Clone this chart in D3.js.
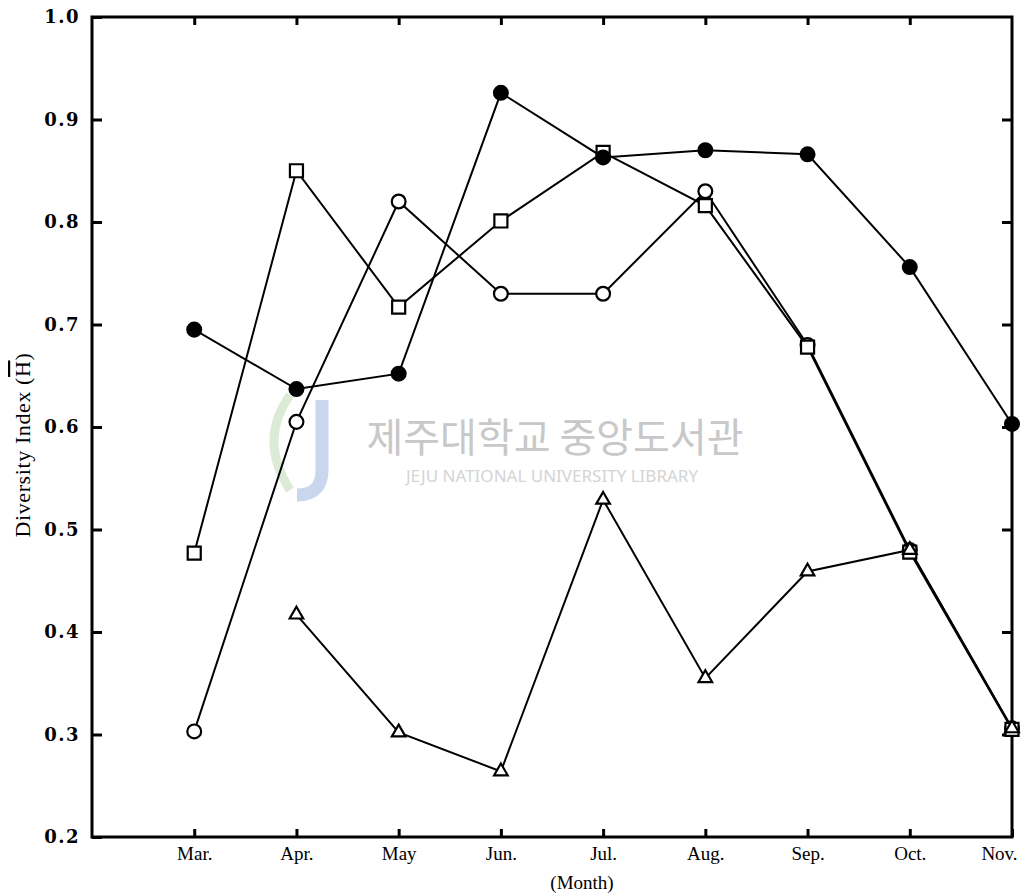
<!DOCTYPE html>
<html>
<head>
<script src="https://d3js.org/d3.v7.min.js"></script>
<style>
  body { margin: 0; background: #fff; }
  .frame { fill: none; stroke: #000; stroke-width: 3px; }
  .axis path { display: none; }
  .axis line { stroke: #000; stroke-width: 3px; }
  .y-axis text { font-family: "DejaVu Serif", serif; font-weight: bold; font-size: 18px; letter-spacing: 1.5px; fill: #000; }
  .x-axis text { font-family: "Liberation Serif", serif; font-size: 19px; fill: #000; }
  .line { fill: none; stroke: #000; stroke-width: 2px; }
  .title { font-family: "Liberation Serif", serif; font-size: 19px; fill: #000; }
</style>
</head>
<body>
<script>
// months (x categories)
var months = ["Mar.", "Apr.", "May", "Jun.", "Jul.", "Aug.", "Sep.", "Oct.", "Nov."];
var yTicks = [0.2, 0.3, 0.4, 0.5, 0.6, 0.7, 0.8, 0.9, 1.0];

// series values (diversity index), null = no sample
var filledCircle = [0.695, 0.637, 0.652, 0.926, 0.863, 0.870, 0.866, 0.756, 0.603];
var openSquare   = [0.477, 0.850, 0.717, 0.801, 0.868, 0.816, 0.678, 0.478, 0.305];
var openCircle   = [0.303, 0.605, 0.820, 0.730, 0.730, 0.830, 0.680, 0.480, 0.306];
var triangle     = [null,  0.417, 0.302, 0.264, 0.529, 0.355, 0.459, 0.480, 0.306];

var W = 1026, H = 895;
var m = { left: 92, right: 1012, top: 17, bottom: 837 };

var svg = d3.select("body").append("svg")
    .attr("width", W)
    .attr("height", H);

// Feb would sit at the left frame, Nov at the right frame
var x = d3.scaleLinear().domain([-1, months.length - 1]).range([m.left, m.right]);
var y = d3.scaleLinear().domain([0.2, 1.0]).range([m.bottom, m.top]);

// watermark
svg.append("text")
    .attr("x", 555).attr("y", 452)
    .attr("text-anchor", "middle")
    .style("font-family", "'Noto Sans CJK KR', sans-serif")
    .style("font-size", "40px")
    .style("fill", "#c8c8c8")
    .text("제주대학교 중앙도서관");
svg.append("text")
    .attr("x", 552).attr("y", 482)
    .attr("text-anchor", "middle")
    .style("font-family", "'Noto Sans', sans-serif")
    .style("font-size", "17px")
    .style("fill", "#d4d4d4")
    .text("JEJU NATIONAL UNIVERSITY  LIBRARY");
svg.append("path")
    .attr("d", "M290,395 Q258,440 290,490")
    .style("fill", "none").style("stroke", "#dcebd6").style("stroke-width", 9);
svg.append("path")
    .attr("d", "M322,400 L322,470 Q322,495 297,495")
    .style("fill", "none").style("stroke", "#c8d6ee").style("stroke-width", 13);

// frame
svg.append("rect")
    .attr("class", "frame")
    .attr("x", m.left).attr("y", m.top)
    .attr("width", m.right - m.left).attr("height", m.bottom - m.top);

// axes with inward ticks
svg.append("g")
    .attr("class", "axis y-axis")
    .attr("transform", "translate(" + m.left + ",0)")
    .call(d3.axisLeft(y).tickValues(yTicks).tickSize(-10).tickPadding(12).tickFormat(d3.format(".1f")));

svg.append("g")
    .attr("class", "axis")
    .attr("transform", "translate(" + m.right + ",0)")
    .call(d3.axisRight(y).tickValues(yTicks.slice(1, -1)).tickSize(-10).tickFormat(""));

var monthIdx = d3.range(months.length);

var xAxis = svg.append("g")
    .attr("class", "axis x-axis")
    .attr("transform", "translate(0," + m.bottom + ")")
    .call(d3.axisBottom(x).tickValues(monthIdx).tickSize(-8).tickPadding(10)
      .tickFormat(function(i) { return months[i]; }));
// last label sits left of the corner like in the print
xAxis.selectAll(".tick text").filter(function(i) { return i === months.length - 1; })
    .attr("dx", -13);

svg.append("g")
    .attr("class", "axis")
    .attr("transform", "translate(0," + m.top + ")")
    .call(d3.axisTop(x).tickValues(monthIdx.slice(0, -1)).tickSize(-8).tickFormat(""));

// axis titles
var yTitle = svg.append("text")
    .attr("class", "title")
    .attr("transform", "translate(30,445) rotate(-90)")
    .attr("text-anchor", "middle")
    .style("font-size", "22px")
    .style("letter-spacing", "0.6px");
yTitle.append("tspan").text("Diversity Index (");
yTitle.append("tspan").style("text-decoration", "overline").text("H");
yTitle.append("tspan").text(")");

svg.append("text")
    .attr("class", "title")
    .attr("x", 582).attr("y", 889)
    .attr("text-anchor", "middle")
    .text("(Month)");

var line = d3.line()
    .defined(function(d) { return d != null; })
    .x(function(d, i) { return x(i); })
    .y(function(d) { return y(d); });

var series = [
  { values: openCircle, shape: "circle", fill: "#fff" },
  { values: openSquare, shape: "square", fill: "#fff" },
  { values: triangle, shape: "triangle", fill: "#fff" },
  { values: filledCircle, shape: "circle", fill: "#000" }
];

series.forEach(function(s) {
  svg.append("path")
      .attr("class", "line")
      .attr("d", line(s.values));
});

var symbolType = { circle: d3.symbolCircle, square: d3.symbolSquare, triangle: d3.symbolTriangle };
var symbolSize = { circle: 150, square: 170, triangle: 80 };

series.forEach(function(s) {
  var pts = s.values.map(function(v, i) { return { i: i, v: v }; })
      .filter(function(d) { return d.v != null; });
  svg.append("g").selectAll("path")
      .data(pts)
      .enter()
      .append("path")
      .attr("transform", function(d) { return "translate(" + x(d.i) + "," + y(d.v) + ")"; })
      .attr("d", d3.symbol().type(symbolType[s.shape]).size(symbolSize[s.shape]))
      .style("fill", s.fill)
      .style("stroke", "#000")
      .style("stroke-width", 2.2);
});
</script>
</body>
</html>
